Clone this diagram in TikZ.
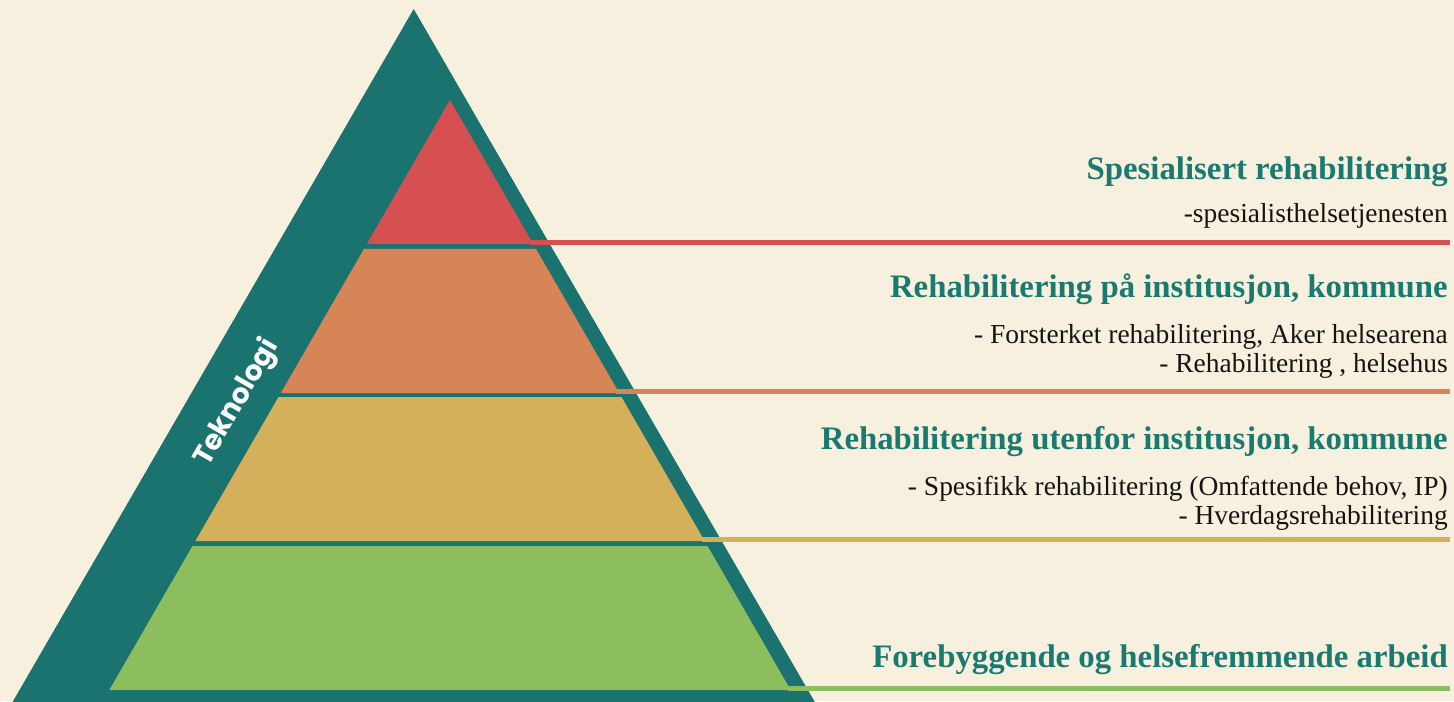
\documentclass[tikz,border=0pt]{standalone}
\usepackage{fontspec}
\setmainfont{Liberation Serif}
\newfontfamily\tagfont{Poppins}
\definecolor{bgcream}{HTML}{F8F0DE}
\definecolor{pyrteal}{HTML}{1B7370}
\definecolor{titleteal}{HTML}{1B7A70}
\definecolor{subblack}{HTML}{141414}
\definecolor{layerred}{HTML}{D65052}
\definecolor{layerorange}{HTML}{D78456}
\definecolor{layeryellow}{HTML}{D4B05A}
\definecolor{layergreen}{HTML}{8CBE5E}

\begin{document}
\begin{tikzpicture}[x=0.75pt,y=0.75pt]
\tikzset{
title/.style = {anchor=base east,
                inner sep=0pt,
                text=titleteal,
                font=\fontsize{24.6}{30}\selectfont\bfseries},
sub/.style = {anchor=base east,
              inner sep=0pt,
              text=subblack,
              font=\fontsize{20.6}{24}\selectfont},
band/.style = {line width=3.4pt}
}

\useasboundingbox (0,0) rectangle (1454,701);
\fill[bgcream] (0,0) rectangle (1454,701);

% teal frame
\fill[pyrteal] (413.7,692) -- (8.5,-8) -- (818.9,-8) -- cycle;

% layers and their lines
\foreach \top/\bot/\col [count=\i] in {601/457/layerred, 452/308/layerorange,
                                       304/160/layeryellow, 155/11/layergreen} {
  \fill[\col] ({450-0.5774*(601-\top)},\top) -- ({450+0.5774*(601-\top)},\top)
           -- ({450+0.5774*(601-\bot)},\bot) -- ({450-0.5774*(601-\bot)},\bot) -- cycle;
  \coordinate (L\i) at ({450+0.5774*(601-\bot)-3},\bot+1.5);
  \coordinate (R\i) at (1450,\bot+1.5);
  \draw[band,\col] (L\i) -- (R\i);
}

\node[rotate=60, inner sep=0pt, text=white, font=\tagfont\bfseries\fontsize{21}{22}\selectfont]
     (tek) at (237,298) {Teknologi};

\node[title] (t1)  at (1448,521) {Spesialisert rehabilitering};
\node[sub]   (s1)  at (1448,478) {-spesialisthelsetjenesten};
\node[title] (t2)  at (1448,403) {Rehabilitering på institusjon, kommune};
\node[sub]   (s2a) at (1448,358) {- Forsterket rehabilitering, Aker helsearena};
\node[sub]   (s2b) at (1448,329) {- Rehabilitering , helsehus};
\node[title] (t3)  at (1448,252) {Rehabilitering utenfor institusjon, kommune};
\node[sub]   (s3a) at (1448,206) {- Spesifikk rehabilitering (Omfattende behov, IP)};
\node[sub]   (s3b) at (1448,177) {- Hverdagsrehabilitering};
\node[title] (t4)  at (1448,34)  {Forebyggende og helsefremmende arbeid};
\end{tikzpicture}
\end{document}
